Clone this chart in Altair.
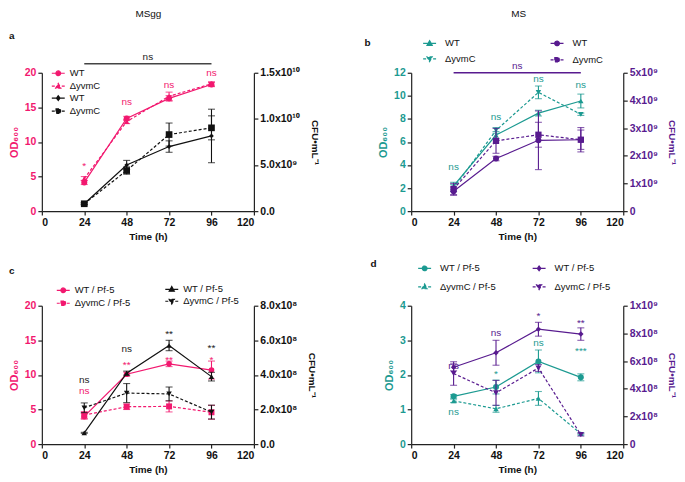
import altair as alt
import pandas as pd

FONT = "Liberation Sans"
PINK = "#f2186f"
TEAL = "#1c9a91"
PURPLE = "#581b8f"
BLACK = "#111111"
AXIS_DARK = "#222222"

TIMES = [24, 48, 72, 96]
X_TICKS = [0, 24, 48, 72, 96, 120]
panel_letters = ["a", "b", "c", "d"]
media_titles = ["MSgg", "MS"]

# ---------------- panel a (MSgg) ----------------
a_od_wt = [4.15, 13.4, 16.3, 18.3]
a_od_wt_err = [0.3, 0.3, 0.4, 0.3]
a_od_dy = [4.7, 12.95, 16.6, 18.4]
a_od_dy_err = [0.3, 0.3, 0.6, 0.3]
a_cfu_wt = [0.8e9, 5.0e9, 7.0e9, 8.15e9]
a_cfu_wt_err = [0.1e9, 0.5e9, 0.62e9, 2.9e9]
a_cfu_dy = [0.8e9, 4.4e9, 8.3e9, 9.03e9]
a_cfu_dy_err = [0.1e9, 0.4e9, 1.25e9, 1.3e9]
a_left_ticks = [0, 5, 10, 15, 20]
a_right_ticks = [0, 5e9, 1e10, 1.5e10]
a_right_labels = ["0.0", "5.0x10⁹", "1.0x10¹⁰", "1.5x10¹⁰"]
a_labels = ["WT", "ΔyvmC", "WT", "ΔyvmC"]
a_sig_left_t = [24, 48, 72, 96]
a_sig_left_y = [7.0, 15.7, 18.3, 20.0]
a_sig_left_txt = ["*", "ns", "ns", "ns"]
a_sig_right_t = [60]
a_sig_right_y = [22.3]
a_sig_right_txt = ["ns"]
a_bar = [24, 96, 21.3]

# ---------------- panel b (MS) ----------------
b_od_wt = [2.2, 6.6, 8.5, 9.55]
b_od_wt_err = [0.3, 0.3, 0.25, 0.6]
b_od_dy = [2.0, 7.0, 10.3, 8.4]
b_od_dy_err = [0.3, 0.25, 0.55, 0.1]
b_cfu_wt = [0.72e9, 1.9e9, 2.56e9, 2.58e9]
b_cfu_wt_err = [0.15e9, 0.08e9, 1.06e9, 0.35e9]
b_cfu_dy = [0.8e9, 2.54e9, 2.76e9, 2.58e9]
b_cfu_dy_err = [0.2e9, 0.45e9, 0.45e9, 0.44e9]
b_left_ticks = [0, 2, 4, 6, 8, 10, 12]
b_right_ticks = [0, 1e9, 2e9, 3e9, 4e9, 5e9]
b_right_labels = ["0", "1x10⁹", "2x10⁹", "3x10⁹", "4x10⁹", "5x10⁹"]
b_labels = ["WT", "ΔyvmC"]
b_sig_left_t = [24, 48, 72, 96]
b_sig_left_y = [3.85, 8.15, 11.45, 10.9]
b_sig_left_txt = ["ns", "ns", "ns", "ns"]
b_sig_right_t = [60]
b_sig_right_y = [12.6]
b_sig_right_txt = ["ns"]
b_bar = [24, 96, 12.0]

# ---------------- panel c (MSgg + Pf-5) ----------------
c_od_wt = [4.0, 10.1, 11.6, 10.7]
c_od_wt_err = [0.4, 0.3, 0.4, 1.3]
c_od_dy = [4.2, 5.4, 5.45, 4.6]
c_od_dy_err = [0.5, 0.4, 0.8, 1.0]
c_cfu_wt = [0.65e8, 4.1e8, 5.7e8, 3.9e8]
c_cfu_wt_err = [0.03e8, 0.12e8, 0.3e8, 0.25e8]
c_cfu_dy = [2.1e8, 2.95e8, 2.9e8, 1.85e8]
c_cfu_dy_err = [0.28e8, 0.55e8, 0.4e8, 0.4e8]
c_left_ticks = [0, 5, 10, 15, 20]
c_right_ticks = [0, 2e8, 4e8, 6e8, 8e8]
c_right_labels = ["0.0", "2.0x10⁸", "4.0x10⁸", "6.0x10⁸", "8.0x10⁸"]
c_labels = ["WT / Pf-5", "ΔyvmC / Pf-5"]
c_sig_left_t = [24, 48, 72, 96]
c_sig_left_y = [7.6, 11.8, 12.55, 12.65]
c_sig_left_txt = ["ns", "**", "**", "*"]
c_sig_right_t = [24, 48, 72, 96]
c_sig_right_y = [9.25, 13.8, 16.35, 14.25]
c_sig_right_txt = ["ns", "ns", "**", "**"]

# ---------------- panel d (MS + Pf-5) ----------------
d_od_wt = [1.38, 1.65, 2.39, 1.93]
d_od_wt_err = [0.05, 0.2, 0.33, 0.1]
d_od_dy = [1.25, 1.02, 1.32, 0.3]
d_od_dy_err = [0.05, 0.1, 0.2, 0.03]
d_cfu_wt = [5.55e8, 6.6e8, 8.3e8, 7.95e8]
d_cfu_wt_err = [0.25e8, 0.9e8, 0.5e8, 0.45e8]
d_cfu_dy = [5.1e8, 3.7e8, 5.5e8, 0.68e8]
d_cfu_dy_err = [0.85e8, 0.9e8, 0.25e8, 0.1e8]
d_left_ticks = [0, 1, 2, 3, 4]
d_right_ticks = [0, 2e8, 4e8, 6e8, 8e8, 1e9]
d_right_labels = ["0", "2x10⁸", "4x10⁸", "6x10⁸", "8x10⁸", "1x10⁹"]
d_labels = ["WT / Pf-5", "ΔyvmC / Pf-5"]
d_sig_left_t = [24, 48, 72, 96]
d_sig_left_y = [0.93, 2.1, 2.92, 2.77]
d_sig_left_txt = ["ns", "*", "ns", "***"]
d_sig_right_t = [24, 48, 72, 96]
d_sig_right_y = [2.27, 3.21, 3.79, 3.6]
d_sig_right_txt = ["ns", "ns", "*", "**"]

# ---------------- styling ----------------
W, H = 213, 139
DASH = [3, 2]
TICK_FS = 10.5
XSCALE = alt.Scale(domain=[0, 120], nice=False, zero=False)

LEG_PATHS = {
    "circle": "M-1,0H1M0.36,0A0.36,0.36,0,1,1,-0.36,0A0.36,0.36,0,1,1,0.36,0Z",
    "triangle-up": "M-1,0H1M0,-0.42L0.4,0.3L-0.4,0.3Z",
    "triangle-down": "M-1,0H1M0,0.42L0.4,-0.3L-0.4,-0.3Z",
    "square": "M-1,0H1M-0.34,-0.34H0.34V0.34H-0.34Z",
    "diamond": "M-1,0H1M0,-0.36L0.28,0L0,0.36L-0.28,0Z",
}


def label_expr(vals, labels):
    tol = max(vals) / 1000.0
    parts = [f"abs(datum.value - {v!r}) < {tol!r} ? '{l}'" for v, l in zip(vals, labels)]
    return " : ".join(parts) + " : ''"


def x_axis():
    return alt.Axis(values=X_TICKS, title="Time (h)", grid=False, labelColor=BLACK,
                    labelFontWeight="bold", labelFontSize=TICK_FS, titleFontSize=10,
                    titleFontWeight="bold", titleColor=BLACK, titlePadding=4)


def series_layers(vals, errs, color, dashed, shape, size, yscale, y_axis, xaxis):
    df = pd.DataFrame({
        "t": TIMES, "v": vals,
        "lo": [v - e for v, e in zip(vals, errs)],
        "hi": [v + e for v, e in zip(vals, errs)],
    })
    base = alt.Chart(df)
    line_kw = dict(color=color, strokeWidth=1.2)
    if dashed:
        line_kw["strokeDash"] = DASH
    line = base.mark_line(**line_kw).encode(
        x=alt.X("t:Q", scale=XSCALE, axis=xaxis),
        y=alt.Y("v:Q", scale=yscale, axis=y_axis),
    )
    err = base.mark_errorbar(ticks=True, size=7, thickness=1.1, color=color).encode(
        x=alt.X("t:Q", scale=XSCALE, axis=xaxis),
        y=alt.Y("lo:Q", scale=yscale, axis=y_axis),
        y2="hi:Q",
    )
    pts = base.mark_point(filled=True, shape=shape, size=size, color=color, opacity=1).encode(
        x=alt.X("t:Q", scale=XSCALE, axis=xaxis),
        y=alt.Y("v:Q", scale=yscale, axis=y_axis),
    )
    return [line, err, pts]


def legend_layer(keys, colors, shapes, dashes, lx, ly, rowpad, loff, lexpr=None):
    df = pd.DataFrame({"key": keys})
    kw = dict(title=None, orient="none", legendX=lx, legendY=ly, direction="vertical",
              symbolSize=169, symbolStrokeWidth=1.2, symbolOpacity=1, rowPadding=rowpad,
              labelFontSize=9.5, labelFont=FONT, labelColor=BLACK, padding=0, labelOffset=loff)
    if lexpr:
        kw["labelExpr"] = lexpr
    paths = [LEG_PATHS[s] for s in shapes]
    dash_range = [DASH if d else [1, 0] for d in dashes]
    return alt.Chart(df).mark_point(filled=True, opacity=0).encode(
        x=alt.value(0), y=alt.value(0),
        fill=alt.Fill("key:N", scale=alt.Scale(domain=keys, range=colors), legend=alt.Legend(**kw)),
        stroke=alt.Stroke("key:N", scale=alt.Scale(domain=keys, range=colors), legend=alt.Legend(**kw)),
        shape=alt.Shape("key:N", scale=alt.Scale(domain=keys, range=paths), legend=alt.Legend(**kw)),
        strokeDash=alt.StrokeDash("key:N", scale=alt.Scale(domain=keys, range=dash_range),
                                  legend=alt.Legend(**kw)),
    )


def sig_layers(ts, ys, txts, color, yscale, y_axis, xaxis):
    out = []
    df = pd.DataFrame({"t": ts, "y": ys, "txt": txts})
    for is_star in (False, True):
        sub = df[df["txt"].str.contains(r"\*") == is_star]
        if len(sub) == 0:
            continue
        out.append(alt.Chart(sub).mark_text(color=color, fontSize=10, font=FONT,
                                            baseline="middle", dy=3 if is_star else 0).encode(
            x=alt.X("t:Q", scale=XSCALE, axis=xaxis),
            y=alt.Y("y:Q", scale=yscale, axis=y_axis),
            text="txt:N",
        ))
    return out


def bar_layer(bar, color, yscale, y_axis, xaxis):
    df = pd.DataFrame({"t1": [bar[0]], "t2": [bar[1]], "y": [bar[2]]})
    return alt.Chart(df).mark_rule(color=color, strokeWidth=1.3).encode(
        x=alt.X("t1:Q", scale=XSCALE, axis=xaxis), x2="t2:Q",
        y=alt.Y("y:Q", scale=yscale, axis=y_axis),
    )


def static_text(txt, px, py, bold=False, align="left", baseline="middle"):
    return alt.Chart(pd.DataFrame({"txt": [txt]})).mark_text(
        align=align, baseline=baseline, fontSize=10, font=FONT, color=BLACK,
        fontWeight="bold" if bold else "normal").encode(
        x=alt.value(px), y=alt.value(py), text="txt:N")


def panel(p):
    ys_l = alt.Scale(domain=[p["left_ticks"][0], p["left_ticks"][-1]], nice=False, zero=False)
    ys_r = alt.Scale(domain=[p["right_ticks"][0], p["right_ticks"][-1]], nice=False, zero=False)
    left_axis = alt.Axis(orient="left", values=p["left_ticks"], title="OD₆₀₀", grid=False,
                         labelColor=p["lc"], titleColor=p["lc"], labelFontWeight="bold",
                         labelFontSize=TICK_FS, titleFontSize=11, titleFontWeight="bold",
                         titlePadding=5)
    right_axis = alt.Axis(orient="right", values=p["right_ticks"], title="CFU•mL⁻¹", grid=False,
                          labelExpr=label_expr(p["right_ticks"], p["right_labels"]),
                          labelColor=p["rc"], titleColor=p["rc"], labelFontWeight="bold",
                          labelFontSize=TICK_FS, titleFontSize=10, titleFontWeight="bold",
                          titlePadding=p["rpad"])
    xa = x_axis()
    left = []
    left += series_layers(p["l1"][0], p["l1"][1], p["lc"], False, p["shapes"][0], p["sizes"][0],
                          ys_l, left_axis, xa)
    left += series_layers(p["l2"][0], p["l2"][1], p["lc"], True, p["shapes"][1], p["sizes"][1],
                          ys_l, left_axis, xa)
    left += sig_layers(*p["sig_l"], p["lc"], ys_l, left_axis, xa)
    left += sig_layers(*p["sig_r"], p["rc_txt"], ys_l, left_axis, xa)
    if p.get("bar"):
        left.append(bar_layer(p["bar"], p["bar_color"], ys_l, left_axis, xa))
    for txt, px, py, bold, align, base in p["texts"]:
        left.append(static_text(txt, px, py, bold, align, base))
    right = []
    right += series_layers(p["r1"][0], p["r1"][1], p["rc"], False, p["shapes"][2], p["sizes"][2],
                           ys_r, right_axis, xa)
    right += series_layers(p["r2"][0], p["r2"][1], p["rc"], True, p["shapes"][3], p["sizes"][3],
                           ys_r, right_axis, xa)
    if p["single_legend"]:
        keys = [f"{l}|{i}" for i, l in enumerate(p["labels"])]
        left.append(legend_layer(keys, [p["lc"], p["lc"], p["rc"], p["rc"]], p["shapes"],
                                 [False, True, False, True], p["leg"][0], p["leg"][1],
                                 p["leg"][2], p["loff"], "split(datum.label, '|')[0]"))
    else:
        left.append(legend_layer(p["labels"], [p["lc"], p["lc"]], p["shapes"][:2], [False, True],
                                 p["leg"][0], p["leg"][1], p["leg"][2], p["loff"]))
        right.append(legend_layer(p["labels"], [p["rc"], p["rc"]], p["shapes"][2:], [False, True],
                                  p["leg2"][0], p["leg2"][1], p["leg2"][2], p["loff"]))
    return alt.layer(alt.layer(*left), alt.layer(*right)).resolve_scale(
        y="independent", fill="independent", stroke="independent",
        shape="independent", strokeDash="independent",
    ).properties(width=W, height=H)


pa = panel(dict(
    l1=(a_od_wt, a_od_wt_err), l2=(a_od_dy, a_od_dy_err),
    r1=(a_cfu_wt, a_cfu_wt_err), r2=(a_cfu_dy, a_cfu_dy_err),
    lc=PINK, rc=BLACK, rc_txt=AXIS_DARK,
    shapes=["circle", "triangle-up", "diamond", "square"], sizes=[36, 30, 22, 45],
    left_ticks=a_left_ticks, right_ticks=a_right_ticks, right_labels=a_right_labels, rpad=10,
    labels=a_labels, single_legend=True, leg=(9, -7, 0), loff=4,
    sig_l=(a_sig_left_t, a_sig_left_y, a_sig_left_txt),
    sig_r=(a_sig_right_t, a_sig_right_y, a_sig_right_txt),
    bar=a_bar, bar_color="#444444",
    texts=[(panel_letters[0], -33, -37, True, "left", "middle"),
           (media_titles[0], 107, -64, False, "center", "top")],
))

pb = panel(dict(
    l1=(b_od_wt, b_od_wt_err), l2=(b_od_dy, b_od_dy_err),
    r1=(b_cfu_wt, b_cfu_wt_err), r2=(b_cfu_dy, b_cfu_dy_err),
    lc=TEAL, rc=PURPLE, rc_txt=PURPLE,
    shapes=["triangle-up", "triangle-down", "circle", "square"], sizes=[30, 30, 36, 40],
    left_ticks=b_left_ticks, right_ticks=b_right_ticks, right_labels=b_right_labels, rpad=9,
    labels=b_labels, single_legend=False, leg=(11, -37, 3.5), leg2=(139, -37, 3.5), loff=8,
    sig_l=(b_sig_left_t, b_sig_left_y, b_sig_left_txt),
    sig_r=(b_sig_right_t, b_sig_right_y, b_sig_right_txt),
    bar=b_bar, bar_color=PURPLE,
    texts=[(panel_letters[1], -47, -30, True, "left", "middle"),
           (media_titles[1], 108, -64, False, "center", "top")],
))

pc = panel(dict(
    l1=(c_od_wt, c_od_wt_err), l2=(c_od_dy, c_od_dy_err),
    r1=(c_cfu_wt, c_cfu_wt_err), r2=(c_cfu_dy, c_cfu_dy_err),
    lc=PINK, rc=BLACK, rc_txt=AXIS_DARK,
    shapes=["circle", "square", "triangle-up", "triangle-down"], sizes=[32, 36, 30, 30],
    left_ticks=c_left_ticks, right_ticks=c_right_ticks, right_labels=c_right_labels, rpad=10,
    labels=c_labels, single_legend=False, leg=(14, -23, 0), leg2=(123, -24, 0), loff=4,
    sig_l=(c_sig_left_t, c_sig_left_y, c_sig_left_txt),
    sig_r=(c_sig_right_t, c_sig_right_y, c_sig_right_txt),
    texts=[(panel_letters[2], -33, -35, True, "left", "middle")],
))

pd_ = panel(dict(
    l1=(d_od_wt, d_od_wt_err), l2=(d_od_dy, d_od_dy_err),
    r1=(d_cfu_wt, d_cfu_wt_err), r2=(d_cfu_dy, d_cfu_dy_err),
    lc=TEAL, rc=PURPLE, rc_txt=PURPLE,
    shapes=["circle", "triangle-up", "diamond", "triangle-down"], sizes=[36, 30, 30, 36],
    left_ticks=d_left_ticks, right_ticks=d_right_ticks, right_labels=d_right_labels, rpad=9,
    labels=d_labels, single_legend=False, leg=(6, -45, 5.5), leg2=(121, -45, 5.5), loff=8,
    sig_l=(d_sig_left_t, d_sig_left_y, d_sig_left_txt),
    sig_r=(d_sig_right_t, d_sig_right_y, d_sig_right_txt),
    texts=[(panel_letters[3], -41, -42, True, "left", "middle")],
))

chart = alt.concat(
    pa, pb, pc, pd_, columns=2, spacing={"row": 95, "column": 158},
    bounds="flush", padding=0,
).configure(font=FONT).configure_view(stroke=None).configure_axis(
    domainColor=AXIS_DARK, tickColor=AXIS_DARK, domainWidth=1.2, tickWidth=1.2,
    tickSize=4, labelPadding=2, labelFont=FONT, titleFont=FONT,
).configure_text(font=FONT)

chart.save("out.html", embed_options={"renderer": "svg", "actions": False})
